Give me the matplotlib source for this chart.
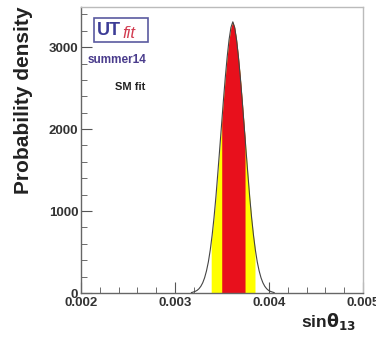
import numpy as np
import matplotlib
matplotlib.use("Agg")
import matplotlib.pyplot as plt
from matplotlib.ticker import MultipleLocator
from matplotlib.patches import Rectangle

sin_theta13 = [0.003175, 0.003195, 0.003215, 0.003235, 0.003255, 0.003275, 0.003295,
               0.003315, 0.003335, 0.003355, 0.003375, 0.003395, 0.003415, 0.003435,
               0.003455, 0.003475, 0.003495, 0.003515, 0.003535, 0.003555, 0.003575,
               0.003595, 0.003615, 0.003635, 0.003655, 0.003675, 0.003695, 0.003715,
               0.003735, 0.003755, 0.003775, 0.003795, 0.003815, 0.003835, 0.003855,
               0.003875, 0.003895, 0.003915, 0.003935, 0.003955, 0.003975, 0.003995,
               0.004015, 0.004035, 0.004055]
density = [5, 12, 20, 32, 52, 82, 125,
           186, 270, 380, 525, 705, 920, 1170,
           1455, 1750, 2050, 2350, 2630, 2880, 3090,
           3240, 3309, 3240, 3090, 2880, 2630, 2350,
           2050, 1750, 1455, 1170, 920, 705, 525,
           380, 270, 186, 125, 82, 52, 32,
           20, 12, 5]
interval_68 = [0.003497, 0.003745]
interval_95 = [0.003385, 0.003851]
xticks = [0.002, 0.003, 0.004, 0.005]
xtick_labels = ["0.002", "0.003", "0.004", "0.005"]
yticks = [0, 1000, 2000, 3000]
ytick_labels = ["0", "1000", "2000", "3000"]

plt.rcParams['font.family'] = ['Liberation Sans', 'DejaVu Sans']

fig = plt.figure(figsize=(3.76, 3.42), dpi=100)
ax = fig.add_axes([81/376, 1 - 293/342, (363-81)/376, (293-7)/342])

x = np.array(sin_theta13)
y = np.array(density)

def band(lo, hi, color):
    xs = np.linspace(lo, hi, 200)
    ys = np.interp(xs, x, y)
    ax.fill_between(xs, 0, ys, color=color, lw=0, zorder=2)

band(interval_95[0], interval_95[1], '#ffff00')
band(interval_68[0], interval_68[1], '#e8101c')
ax.plot(x, y, color='#444444', lw=0.8, zorder=3)

ax.set_xlim(0.002, 0.005)
ax.set_ylim(0, 3490)
ax.set_xticks(xticks)
ax.set_xticklabels(xtick_labels)
ax.set_yticks(yticks)
ax.set_yticklabels(ytick_labels)
ax.xaxis.set_minor_locator(MultipleLocator(0.0002))
ax.yaxis.set_minor_locator(MultipleLocator(200))
ax.tick_params(which='both', direction='in', colors='#555555', labelcolor='#333333')
ax.tick_params(which='major', length=8, width=0.8, labelsize=9.5)
ax.tick_params(which='minor', length=4, width=0.6)
ax.tick_params(axis='x', pad=3)
ax.tick_params(axis='y', pad=2)
for lbl in ax.get_xticklabels() + ax.get_yticklabels():
    lbl.set_fontweight('bold')
for side in ['left', 'bottom']:
    ax.spines[side].set_color('#666666')
    ax.spines[side].set_linewidth(1.0)
for side in ['top', 'right']:
    ax.spines[side].set_color('#bbbbbb')
    ax.spines[side].set_linewidth(1.0)

fig.text(24/376, 1 - 100/342, 'Probability density', rotation=90, ha='center', va='center',
         fontsize=15, fontweight='bold', color='#222222')
fig.text(356/376, 1 - 327/342, r'sin$\mathbf{\theta}_{\mathbf{13}}$', ha='right', va='baseline',
         fontsize=12.5, fontweight='bold', color='#222222')

# UTfit logo
fig.patches.append(Rectangle((94/376, 1 - 42/342), 54/376, 24/342, transform=fig.transFigure,
                             fill=False, edgecolor='#5a5aa0', lw=1.2))
fig.text(97/376, 1 - 35/342, 'UT', fontsize=13, fontweight='bold', color='#3c3c96',
         ha='left', va='baseline')
fig.text(122/376, 1 - 38/342, 'fit', fontsize=12, style='italic', color='#d23c50',
         ha='left', va='baseline')
fig.text(117/376, 1 - 60/342, 'summer14', fontsize=8.5, fontweight='bold', color='#4a3c8c',
         ha='center', va='center')
fig.text(130/376, 1 - 87/342, 'SM fit', fontsize=8, fontweight='bold', color='#222222',
         ha='center', va='center')

fig.savefig('out.png', dpi=100)
